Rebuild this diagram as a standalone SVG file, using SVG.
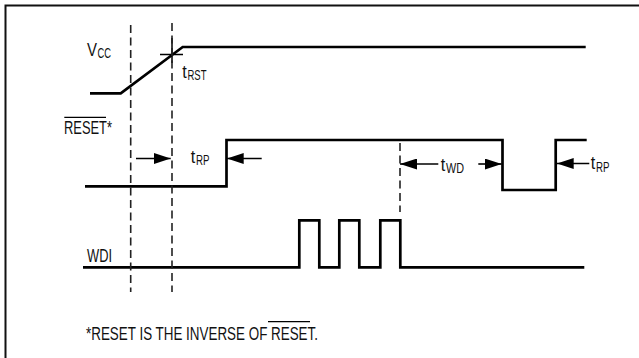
<svg xmlns="http://www.w3.org/2000/svg" width="639" height="358" viewBox="0 0 639 358">
<style>
.sig{fill:none;stroke:#000;stroke-width:2.7;stroke-linejoin:miter;stroke-linecap:butt}
.dash{fill:none;stroke:#222;stroke-width:1.6;stroke-dasharray:8,4.5}
.thin{fill:none;stroke:#000;stroke-width:1.5}
.arr{fill:none;stroke:#000;stroke-width:1.6}
.ol{stroke:#000;stroke-width:1.2}
text{font-family:"Liberation Sans",Arial,sans-serif;fill:#111}
.m{font-size:18px}
.s{font-size:14px}
</style>
<defs>
<marker id="ah" viewBox="0 0 17 11" refX="17" refY="5.5" markerWidth="17" markerHeight="11" markerUnits="userSpaceOnUse" orient="auto">
<path d="M0,0 L17,5.5 L0,11 Z" fill="#000"/>
</marker>
</defs>
<rect width="639" height="358" fill="#fff"/>
<path d="M5.5,358 V5.5 H639" fill="none" stroke="#111" stroke-width="2"/>

<g id="vcc">
<path class="sig" d="M90,93.3 H120.7 L182.7,47 H585.7"/>
<text class="m" x="87" y="56" textLength="10" lengthAdjust="spacingAndGlyphs">V</text>
<text class="s" x="97.5" y="57.5" textLength="13.5" lengthAdjust="spacingAndGlyphs">CC</text>
<path class="thin" d="M160,54.5 H183 M172,38 V63"/>
<text class="m" x="182.3" y="78.3" textLength="4.5" lengthAdjust="spacingAndGlyphs">t</text>
<text class="s" x="187.5" y="79.5" textLength="19" lengthAdjust="spacingAndGlyphs">RST</text>
</g>

<g id="reset">
<path class="sig" d="M85,186.3 H226.5 V140 H502.5 V190 H555.7 V140 H586.7"/>
<text class="m" x="64" y="134" textLength="48" lengthAdjust="spacingAndGlyphs">RESET*</text>
<line class="ol" x1="64.3" y1="117.3" x2="106" y2="117.3"/>
</g>

<g id="wdi">
<path class="sig" d="M83,267.3 H299.3 V220.3 H319.3 V267.3 H339.3 V220.3 H359.3 V267.3 H380.3 V220.3 H400.3 V267.3 H584.3"/>
<text class="m" x="87" y="261.5" textLength="25" lengthAdjust="spacingAndGlyphs">WDI</text>
</g>

<g id="connectors">
<line class="dash" x1="130.7" y1="25" x2="130.7" y2="292"/>
<line class="dash" x1="172" y1="23" x2="172" y2="292"/>
<line class="dash" x1="400" y1="143" x2="400" y2="212"/>
<line class="arr" x1="136" y1="158.5" x2="170.7" y2="158.5" marker-end="url(#ah)"/>
<line class="arr" x1="261.7" y1="158.5" x2="226.7" y2="158.5" marker-end="url(#ah)"/>
<line class="arr" x1="438.3" y1="164" x2="400" y2="164" marker-end="url(#ah)"/>
<line class="arr" x1="478.3" y1="164" x2="501.7" y2="164" marker-end="url(#ah)"/>
<line class="arr" x1="589.3" y1="163.5" x2="556.7" y2="163.5" marker-end="url(#ah)"/>
</g>

<g id="labels">
<text class="m" x="190.7" y="162.7" textLength="4.5" lengthAdjust="spacingAndGlyphs">t</text>
<text class="s" x="196" y="164.7" textLength="13.5" lengthAdjust="spacingAndGlyphs">RP</text>
<text class="m" x="440.7" y="170.7" textLength="4.5" lengthAdjust="spacingAndGlyphs">t</text>
<text class="s" x="446" y="173.3" textLength="18" lengthAdjust="spacingAndGlyphs">WD</text>
<text class="m" x="590.7" y="168.5" textLength="4.5" lengthAdjust="spacingAndGlyphs">t</text>
<text class="s" x="596" y="171.5" textLength="13.5" lengthAdjust="spacingAndGlyphs">RP</text>
</g>

<g id="footnote">
<text class="m" x="86" y="340.3" textLength="232" lengthAdjust="spacingAndGlyphs">*RESET IS THE INVERSE OF RESET.</text>
<line class="ol" x1="268" y1="321.7" x2="310" y2="321.7"/>
</g>
</svg>
